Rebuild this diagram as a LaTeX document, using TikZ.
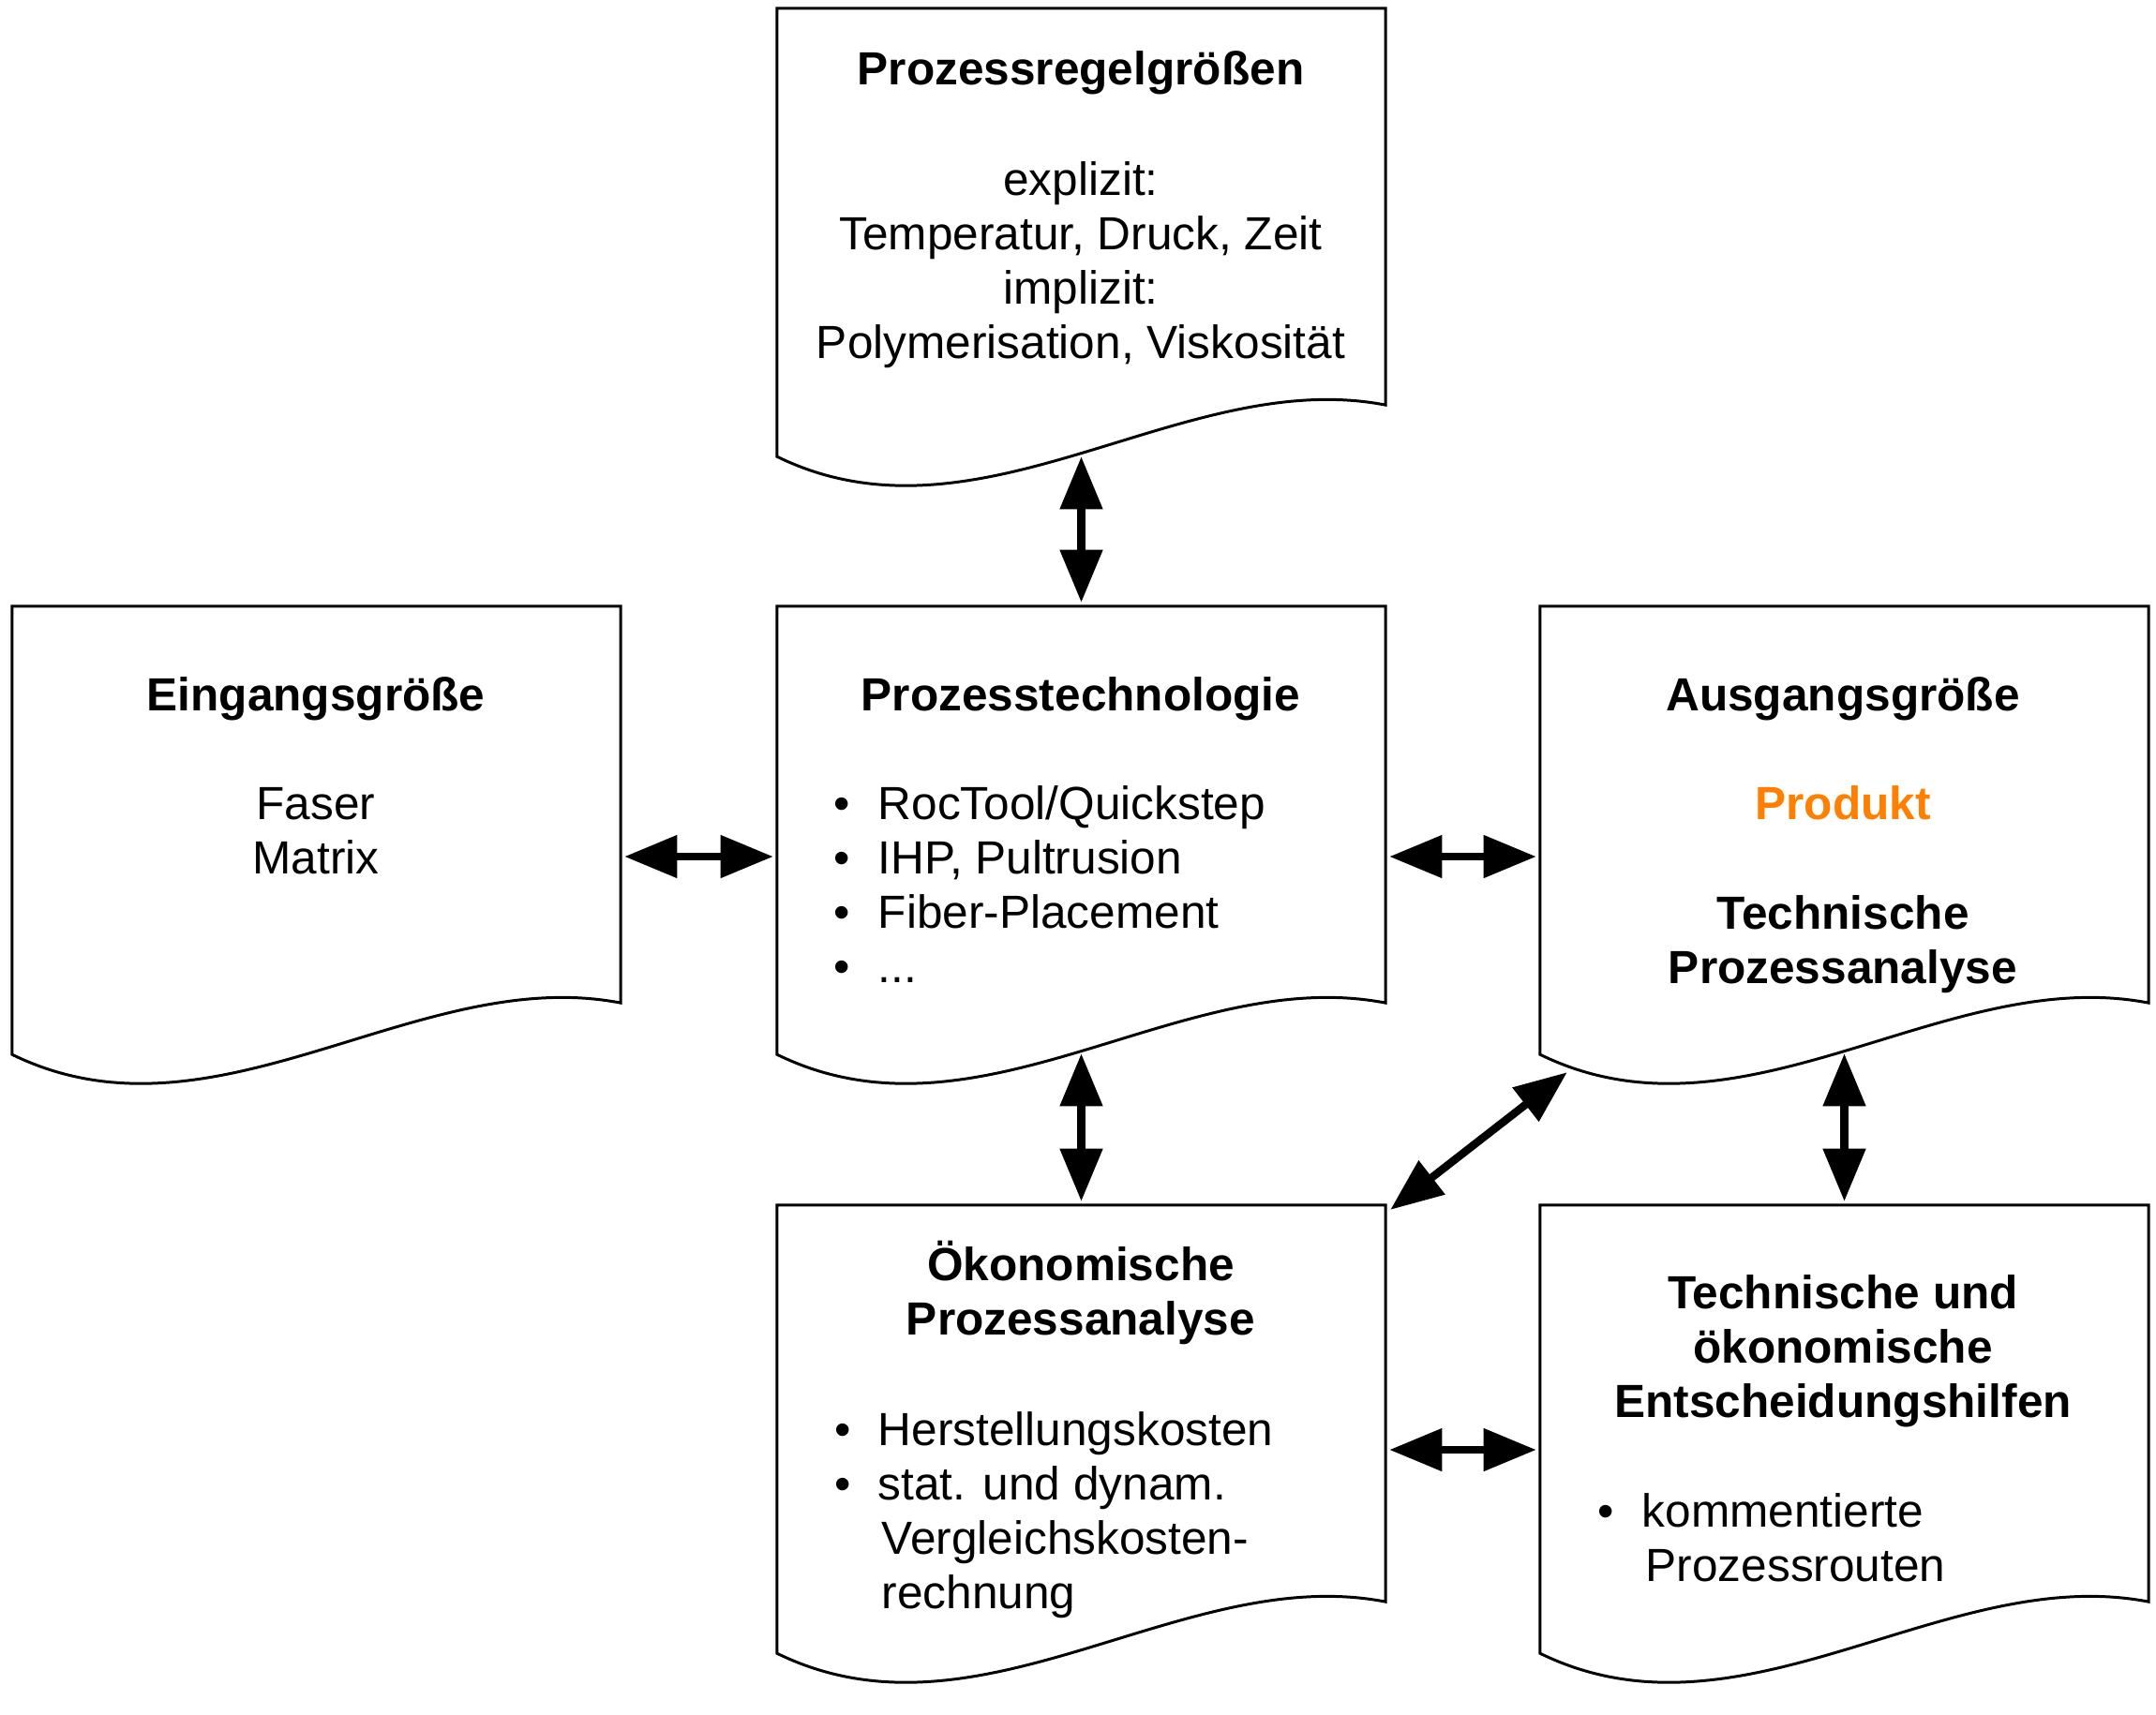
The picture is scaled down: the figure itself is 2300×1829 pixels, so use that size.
\documentclass[tikz,border=0pt]{standalone}
\usepackage{fontspec}
\setmainfont{Liberation Sans}
\usetikzlibrary{arrows.meta,calc}
\definecolor{prodorange}{RGB}{255,128,0}
\tikzset{
 area/.style={draw=none, inner sep=0pt, outer sep=0pt, minimum width=6.49cm, minimum height=4.78cm},
 outline/.style={draw=black, line width=0.85pt, line join=miter},
 tx/.style={font=\fontsize{14.1}{16.5}\selectfont, inner sep=0pt, anchor=base},
 hd/.style={tx, font=\fontsize{14.1}{16.5}\selectfont\bfseries},
 txl/.style={tx, anchor=base west},
 dbl/.style={line width=2.4pt, {Triangle[width=12.5pt,length=16pt]}-{Triangle[width=12.5pt,length=16pt]}},
}
\newcommand\docbox[3]{%
 \node[area] (#1) at (#2+324.5,#3+239) {};
 \draw[outline] (#1.south west) .. controls ($(#1.south west)+(216.3,106)$) and ($(#1.south west)+(432.7,-97)$) .. ($(#1.south east)+(0,-55)$) -- (#1.north east) -- (#1.north west) -- cycle;
}
\begin{document}
\begin{tikzpicture}[x=0.01cm, y=-0.01cm]
\useasboundingbox (0,0) rectangle (2300,1829);
\docbox{T}{829}{9}
\docbox{E}{13}{647}
\docbox{P}{829}{647}
\docbox{A}{1643}{647}
\docbox{O}{829}{1286}
\docbox{D}{1643}{1286}
% top box text
\node[hd] (t1) at (1153,90) {Prozessregelgrößen};
\node[tx] (t2) at (1153,208) {explizit:};
\node[tx] (t3) at (1153,266) {Temperatur, Druck, Zeit};
\node[tx] (t4) at (1153,324) {implizit:};
\node[tx] (t5) at (1153,382) {Polymerisation, Viskosität};
% left box
\node[hd] (e1) at (337,758) {Eingangsgröße};
\node[tx] (e2) at (337,874) {Faser};
\node[tx] (e3) at (337,932) {Matrix};
% middle box
\node[hd] (p1) at (1153,758) {Prozesstechnologie};
\node[tx] (pb1) at (898,874) {•};
\node[txl] (p2) at (936,874) {RocTool/Quickstep};
\node[tx] (pb2) at (898,932) {•};
\node[txl] (p3) at (936,932) {IHP, Pultrusion};
\node[tx] (pb3) at (898,990) {•};
\node[txl] (p4) at (936,990) {Fiber-Placement};
\node[tx] (pb4) at (898,1048) {•};
\node[txl] (p5) at (936,1048) {...};
% right box
\node[hd] (a1) at (1966,758) {Ausgangsgröße};
\node[hd, text=prodorange] (a2) at (1966,874) {Produkt};
\node[hd] (a3) at (1966,991) {Technische};
\node[hd] (a4) at (1966,1049) {Prozessanalyse};
% bottom middle
\node[hd] (o1) at (1153,1366) {Ökonomische};
\node[hd] (o2) at (1153,1424) {Prozessanalyse};
\node[tx] (ob1) at (899,1542) {•};
\node[txl] (o3) at (936,1542) {Herstellungskosten};
\node[tx] (ob2) at (899,1600) {•};
\node[txl] (o4) at (936,1600) {stat. und dynam.};
\node[txl] (o5) at (940,1658) {Vergleichskosten-};
\node[txl] (o6) at (940,1716) {rechnung};
% bottom right
\node[hd] (d1) at (1966,1396) {Technische und};
\node[hd] (d2) at (1966,1454) {ökonomische};
\node[hd] (d3) at (1966,1512) {Entscheidungshilfen};
\node[tx] (db1) at (1713,1629) {•};
\node[txl] (d4) at (1751,1629) {kommentierte};
\node[txl] (d5) at (1755,1687) {Prozessrouten};
% connectors
\draw[dbl] ($(T.south)+(0,0)$) -- ($(P.north)+(0,-4)$);
\draw[dbl] ($(E.east)+(4,28)$) -- ($(P.west)+(-4,28)$);
\draw[dbl] ($(P.east)+(4,28)$) -- ($(A.west)+(-4,28)$);
\draw[dbl] ($(P.south)+(0,-1)$) -- ($(O.north)+(0,-4)$);
\draw[dbl] ($(A.south)+(0,-1)$) -- ($(D.north)+(0,-4)$);
\draw[dbl] ($(A.south west)+(29,19)$) -- ($(O.north east)+(5,5)$);
\draw[dbl] ($(O.east)+(4,22)$) -- ($(D.west)+(-4,22)$);
\end{tikzpicture}
\end{document}
